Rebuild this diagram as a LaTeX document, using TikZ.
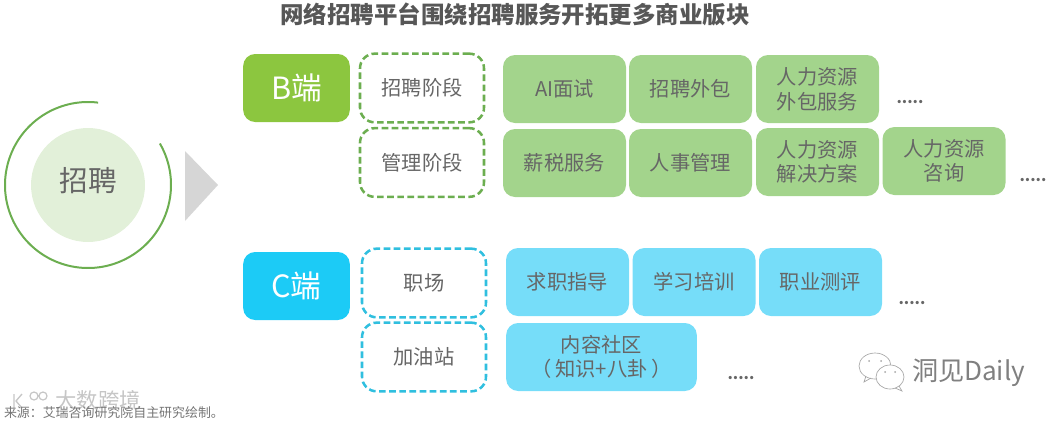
\documentclass[tikz,border=0pt]{standalone}
\usepackage{fontspec}
\setmainfont{Noto Sans CJK SC}
\usetikzlibrary{calc}
\definecolor{txt}{HTML}{666666}
\definecolor{gfill}{HTML}{A3D48C}
\definecolor{bfill}{HTML}{76DDF9}
\definecolor{gmain}{HTML}{8CC63F}
\definecolor{cmain}{HTML}{1CCBF6}
\definecolor{gline}{HTML}{6CAE50}
\definecolor{cline}{HTML}{30BFDF}
\definecolor{circ}{HTML}{E2F0D9}
\definecolor{tri}{HTML}{D6D6D6}
\tikzset{
  every node/.style={inner sep=0pt,outer sep=0pt,align=center,text=txt,font=\fontsize{15.2}{18.5}\selectfont},
  boxw/.style={minimum width=92.25pt,minimum height=51pt,rounded corners=9pt},
  greenbox/.style={boxw,fill=gfill},
  bluebox/.style={boxw,fill=bfill},
  mainbox/.style={minimum width=80pt,minimum height=51pt,rounded corners=9pt,text=white,font=\fontsize{23}{27}\selectfont},
  dashbox/.style={minimum width=93pt,minimum height=51.5pt,rounded corners=11pt,draw,line width=1.9pt,dash pattern=on 5pt off 2.6pt},
  dots/.style={font=\fontsize{11.5}{14}\selectfont\bfseries,text=txt},
  wm/.style={draw=gray!70,line width=.5pt,fill=none}
}
\begin{document}
\begin{tikzpicture}[x=0.75pt,y=-0.75pt]
\useasboundingbox (0,0) rectangle (1059,422);
\node[font=\fontsize{17.6}{20}\selectfont\bfseries,text=txt!85!black] (title) at (515,14) {网络招聘平台围绕招聘服务开拓更多商业版块};
% left
\node[circle,fill=circ,minimum size=85.5pt] (zp) at (88,185) {};
\node[font=\fontsize{21.5}{25}\selectfont] (zpt) at (88,181) {招聘};
\draw[gline,line width=1.5pt] ($(zp)+(-30:83)$) arc[start angle=-30,end angle=277,radius=83];
\fill[tri] (185,151) -- (218,185) -- (185,221) -- cycle;
% B
\node[mainbox,fill=gmain] (b) at (296.5,88) {B端};
\node[dashbox,draw=gline] (b1) at (422,88) {招聘阶段};
\node[dashbox,draw=gline] (b2) at (422,162.5) {管理阶段};
\node[greenbox] (g1) at (564.5,89) {AI面试};
\node[greenbox] (g2) at (690.5,89) {招聘外包};
\node[greenbox] (g3) at (817.5,89) {人力资源\\外包服务};
\node[dots] (gd1) at (910,102) {.....};
\node[greenbox] (g4) at (564.5,163) {薪税服务};
\node[greenbox] (g5) at (690.5,163) {人事管理};
\node[greenbox] (g6) at (817.5,162) {人力资源\\解决方案};
\node[greenbox] (g7) at (944,161) {人力资源\\咨询};
\node[dots] (gd2) at (1033,180) {.....};
% C
\node[mainbox,fill=cmain] (c) at (296.5,286) {C端};
\node[dashbox,draw=cline] (c1) at (424,283) {职场};
\node[dashbox,draw=cline] (c2) at (424,357) {加油站};
\node[bluebox] (h1) at (567.5,282) {求职指导};
\node[bluebox] (h2) at (694,282) {学习培训};
\node[bluebox] (h3) at (820.5,282) {职业测评};
\node[dots] (hd1) at (912,303) {.....};
\node[bluebox,minimum width=143pt] (h4) at (601.5,357) {内容社区\\（\,知识+八卦\,）};
\node[dots] (hd2) at (741,378) {.....};
% watermarks and source
\node[text=gray!45,font=\fontsize{16}{18}\selectfont] (wm1) at (98,400) {大数跨境};
\draw[gray!45,line width=1pt] (14,394) -- (14,408) (22,394) -- (16,401) -- (22,408);
\draw[gray!45,line width=.9pt] (34,396) circle[radius=4] (43,396) circle[radius=4];
\node[anchor=west,text=txt!90,font=\fontsize{9.7}{12}\selectfont] (src) at (4,413) {来源：艾瑞咨询研究院自主研究绘制。};
\draw[wm] (875,366) ellipse[x radius=16,y radius=13];
\draw[wm,fill=white] (890,377) ellipse[x radius=14,y radius=12];
\draw[wm] (899,386) -- (902,391) -- (895,388);
\draw[wm] (866,376) -- (864,382) -- (871,378);
\foreach \p in {(869,361),(881,361),(885,372),(895,372)} \fill[gray!70] \p circle[radius=1];
\node[anchor=west,text=gray,font=\fontsize{19.6}{22}\selectfont] (wm2) at (912,373) {洞见Daily};
\end{tikzpicture}
\end{document}
